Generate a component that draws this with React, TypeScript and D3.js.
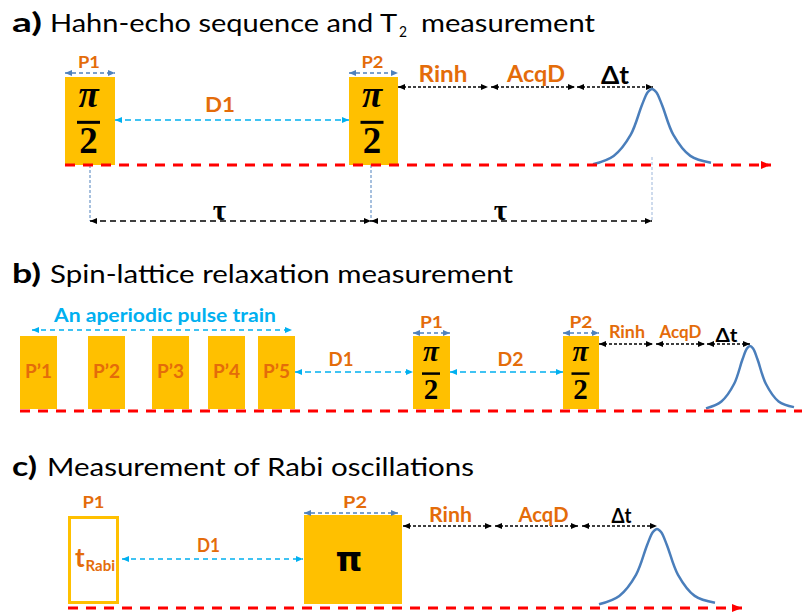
import React from "react";
import * as d3 from "d3";

const W = 802;
const H = 614;

const FONT = "Lato, 'Open Sans', 'DejaVu Sans', sans-serif";
const MATH = "'Liberation Serif', 'DejaVu Serif', serif";

const COLORS = {
  pulse: "#FFC000",
  orange: "#E46C0A",
  sky: "#00B0F0",
  steel: "#4F81BD",
  pale: "#9DB7DB",
  red: "#FF0000",
  black: "#000000",
  echo: "#4A7EBB",
};

// Shared time axis (diagram time units → pixels)
const x = d3.scaleLinear().domain([0, W]).range([0, W]);

// ---------- a) Hahn-echo sequence ----------
const hahnPulses = [
  { label: "P1", t0: 65, t1: 115 },
  { label: "P2", t0: 349, t1: 398 },
];
const hahnDelays = [{ label: "D1", t0: 115, t1: 349 }];
const hahnReadout = [
  { label: "Rinh", t0: 398, t1: 488 },
  { label: "AcqD", t0: 491, t1: 575 },
  { label: "Δt", t0: 577, t1: 653 },
];
const hahnTau = [
  { label: "τ", t0: 90, t1: 371 },
  { label: "τ", t0: 371, t1: 652 },
];
const hahnGuides = [90, 371, 652];
const hahnEcho = { t: 652, halfWidth: 59 };
const hahnAxis = { t0: 65, t1: 771 };

// ---------- b) Spin-lattice relaxation ----------
const trainPulses = [
  { label: "P’1", t0: 20, t1: 57 },
  { label: "P’2", t0: 88, t1: 125 },
  { label: "P’3", t0: 152, t1: 189 },
  { label: "P’4", t0: 208, t1: 245 },
  { label: "P’5", t0: 258, t1: 295 },
];
const trainSpan = { label: "An aperiodic pulse train", t0: 32, t1: 292 };
const t1Pulses = [
  { label: "P1", t0: 413, t1: 450 },
  { label: "P2", t0: 563, t1: 599 },
];
const t1Delays = [
  { label: "D1", t0: 295, t1: 413 },
  { label: "D2", t0: 450, t1: 563 },
];
const t1Readout = [
  { label: "Rinh", t0: 599, t1: 653 },
  { label: "AcqD", t0: 656, t1: 705 },
  { label: "Δt", t0: 707, t1: 750 },
];
const t1Echo = { t: 750, halfWidth: 44 };
const t1Axis = { t0: 20, t1: 802 };

// ---------- c) Rabi oscillations ----------
const rabiPulses = [
  { label: "P1", t0: 68, t1: 119, variable: true },
  { label: "P2", t0: 304, t1: 402, variable: false },
];
const rabiDelays = [{ label: "D1", t0: 122, t1: 303 }];
const rabiReadout = [
  { label: "Rinh", t0: 403, t1: 492 },
  { label: "AcqD", t0: 495, t1: 578 },
  { label: "Δt", t0: 582, t1: 657 },
];
const rabiEcho = { t: 657, halfWidth: 58 };
const rabiAxis = { t0: 68, t1: 742 };

// Echo profile: offset in half-widths, height as a fraction of the peak
const ECHO_SHAPE: [number, number][] = [
  [-1, 0.01],
  [-0.65, 0.12],
  [-0.36, 0.4],
  [-0.17, 0.79],
  [-0.07, 0.96],
  [0, 1],
  [0.07, 0.96],
  [0.17, 0.79],
  [0.36, 0.4],
  [0.65, 0.12],
  [1, 0.03],
];

// Label typesetting per panel: font size, set width, horizontal nudge
type Fit = { size: number; w: number; dx?: number };
const fitA: Record<string, Fit> = {
  P1: { size: 17, w: 22 },
  P2: { size: 17, w: 22 },
  D1: { size: 20, w: 30, dx: -12 },
  Rinh: { size: 23, w: 49 },
  AcqD: { size: 23, w: 58, dx: 3 },
  "Δt": { size: 24, w: 28 },
};
const fitB: Record<string, Fit> = {
  "P’1": { size: 18, w: 27 },
  "P’2": { size: 18, w: 27 },
  "P’3": { size: 18, w: 27 },
  "P’4": { size: 18, w: 27 },
  "P’5": { size: 18, w: 27 },
  train: { size: 19, w: 222, dx: 3 },
  P1: { size: 17, w: 23 },
  P2: { size: 17, w: 23 },
  D1: { size: 18, w: 25, dx: -13 },
  D2: { size: 18, w: 26, dx: 4 },
  Rinh: { size: 16.5, w: 36, dx: 1 },
  AcqD: { size: 16.5, w: 42, dx: 0 },
  "Δt": { size: 19, w: 22, dx: -2 },
};
const fitC: Record<string, Fit> = {
  P1: { size: 17, w: 22 },
  P2: { size: 17.5, w: 24, dx: 2 },
  D1: { size: 18, w: 23, dx: -4 },
  Rinh: { size: 21, w: 43, dx: 3 },
  AcqD: { size: 21, w: 50, dx: 7 },
  "Δt": { size: 21, w: 20, dx: 2 },
};

const mid = (d: { t0: number; t1: number }) => (x(d.t0) + x(d.t1)) / 2;

function Markers() {
  const defs = [
    { id: "ah-black", color: COLORS.black, w: 7, h: 6 },
    { id: "ah-sky", color: COLORS.sky, w: 7, h: 6 },
    { id: "ah-steel", color: COLORS.steel, w: 7, h: 6 },
    { id: "ah-red", color: COLORS.red, w: 10, h: 8 },
  ];
  return (
    <defs>
      {defs.map((m) => (
        <marker
          key={m.id}
          id={m.id}
          viewBox="0 0 10 10"
          refX={10}
          refY={5}
          markerWidth={m.w}
          markerHeight={m.h}
          markerUnits="userSpaceOnUse"
          preserveAspectRatio="none"
          orient="auto-start-reverse"
        >
          <path d="M0,0L10,5L0,10z" fill={m.color} />
        </marker>
      ))}
    </defs>
  );
}

function DimArrow({
  t0,
  t1,
  y,
  color,
  marker,
  dash,
  width = 1.5,
}: {
  t0: number;
  t1: number;
  y: number;
  color: string;
  marker: string;
  dash: string;
  width?: number;
}) {
  return (
    <line
      x1={x(t0)}
      x2={x(t1)}
      y1={y}
      y2={y}
      stroke={color}
      strokeWidth={width}
      strokeDasharray={dash}
      markerStart={`url(#${marker})`}
      markerEnd={`url(#${marker})`}
    />
  );
}

function Label({
  cx,
  y,
  text,
  fit,
  color = COLORS.orange,
}: {
  cx: number;
  y: number;
  text: string;
  fit: Fit;
  color?: string;
}) {
  const left = cx + (fit.dx ?? 0) - fit.w / 2;
  return (
    <text
      x={left}
      y={y}
      fontFamily={FONT}
      fontWeight="bold"
      fontSize={fit.size}
      fill={color}
      textLength={fit.w}
      lengthAdjust="spacingAndGlyphs"
    >
      {text}
    </text>
  );
}

function HalfPi({ cx, top, bottom, size, barW, barH }: { cx: number; top: number; bottom: number; size: number; barW: number; barH: number }) {
  const h = bottom - top;
  return (
    <g fontFamily={MATH} fontWeight="bold" textAnchor="middle" fill={COLORS.black}>
      <text x={cx} y={top + h * 0.34} fontSize={size} fontStyle="italic">
        π
      </text>
      <rect x={cx - barW / 2} y={top + h * 0.515 - barH / 2} width={barW} height={barH} />
      <text x={cx} y={top + h * 0.86} fontSize={size}>
        2
      </text>
    </g>
  );
}

function Echo({ t, halfWidth, top, base }: { t: number; halfWidth: number; top: number; base: number }) {
  const line = d3
    .line<[number, number]>()
    .x((d) => x(t) + d[0] * halfWidth)
    .y((d) => base - d[1] * (base - top))
    .curve(d3.curveCatmullRom.alpha(0.5));
  return <path d={line(ECHO_SHAPE) ?? ""} fill="none" stroke={COLORS.echo} strokeWidth={2.5} />;
}

function Baseline({ t0, t1, y, arrow }: { t0: number; t1: number; y: number; arrow: boolean }) {
  return (
    <line
      x1={x(t0)}
      x2={x(t1)}
      y1={y}
      y2={y}
      stroke={COLORS.red}
      strokeWidth={3}
      strokeDasharray="10 8"
      markerEnd={arrow ? "url(#ah-red)" : undefined}
    />
  );
}

// Panel heading: bold tag followed by set-width runs of regular text
function Title({
  y,
  tag,
  tagW,
  runs,
}: {
  y: number;
  tag: string;
  tagW: number;
  runs: { text: string; x: number; w: number; size?: number; dy?: number }[];
}) {
  return (
    <g fontFamily={FONT} fill="#000">
      <text x={12} y={y} fontSize={26} fontWeight="bold" textLength={tagW} lengthAdjust="spacingAndGlyphs">
        {tag}
      </text>
      {runs.map((r, i) => (
        <text
          key={i}
          x={r.x}
          y={y + (r.dy ?? 0)}
          fontSize={r.size ?? 25}
          textLength={r.w}
          lengthAdjust="spacingAndGlyphs"
        >
          {r.text}
        </text>
      ))}
    </g>
  );
}

function ReadoutGroup({
  items,
  y,
  labelY,
  deltaY,
  fits,
}: {
  items: { label: string; t0: number; t1: number }[];
  y: number;
  labelY: number;
  deltaY: number;
  fits: Record<string, Fit>;
}) {
  return (
    <g>
      {items.map((d, i) => {
        const isDelta = d.label === "Δt";
        return (
          <g key={i}>
            <DimArrow t0={d.t0} t1={d.t1} y={y} color={COLORS.black} marker="ah-black" dash="3 2" width={1.3} />
            <Label
              cx={mid(d)}
              y={isDelta ? deltaY : labelY}
              text={d.label}
              fit={fits[d.label]}
              color={isDelta ? COLORS.black : COLORS.orange}
            />
          </g>
        );
      })}
    </g>
  );
}

function PanelA() {
  const top = 77;
  const base = 165;
  return (
    <g>
      <Title
        y={32}
        tag="a)"
        tagW={30}
        runs={[
          { text: "Hahn-echo sequence and T", x: 50, w: 347 },
          { text: "2", x: 399, w: 8, size: 15, dy: 5 },
          { text: "measurement", x: 421, w: 174 },
        ]}
      />

      {hahnGuides.map((g, i) => (
        <line
          key={i}
          x1={x(g)}
          x2={x(g)}
          y1={i === 2 ? 157 : base}
          y2={221}
          stroke={i === 2 ? COLORS.pale : COLORS.steel}
          strokeWidth={1}
          strokeDasharray="3 2"
        />
      ))}

      {hahnPulses.map((p, i) => (
        <g key={i}>
          <rect x={x(p.t0)} y={top} width={x(p.t1) - x(p.t0)} height={base - top} fill={COLORS.pulse} />
          <DimArrow t0={p.t0} t1={p.t1} y={top - 4} color={COLORS.steel} marker="ah-steel" dash="4 3" />
          <Label cx={mid(p) - 1} y={68} text={p.label} fit={fitA[p.label]} />
          <HalfPi cx={mid(p) - 1.5} top={top} bottom={base} size={37} barW={23} barH={3} />
        </g>
      ))}

      {hahnDelays.map((d, i) => (
        <g key={i}>
          <DimArrow t0={d.t0} t1={d.t1} y={120} color={COLORS.sky} marker="ah-sky" dash="6 4" />
          <Label cx={mid(d)} y={112} text={d.label} fit={fitA[d.label]} />
        </g>
      ))}

      <ReadoutGroup items={hahnReadout} y={87} labelY={82} deltaY={84} fits={fitA} />

      <Echo t={hahnEcho.t} halfWidth={hahnEcho.halfWidth} top={89} base={165} />

      <Baseline t0={hahnAxis.t0} t1={hahnAxis.t1} y={165} arrow />

      {hahnTau.map((d, i) => (
        <g key={i}>
          <DimArrow t0={d.t0} t1={d.t1} y={221} color={COLORS.black} marker="ah-black" dash="6 4" width={1.5} />
          <text
            x={mid(d) - 11}
            y={220}
            textAnchor="middle"
            fontFamily={MATH}
            fontWeight="bold"
            fontSize={29}
            fill={COLORS.black}
          >
            {d.label}
          </text>
        </g>
      ))}
    </g>
  );
}

function PanelB() {
  const top = 336;
  const base = 409;
  return (
    <g>
      <Title
        y={283}
        tag="b)"
        tagW={29}
        runs={[{ text: "Spin-lattice relaxation measurement", x: 50, w: 463 }]}
      />

      <DimArrow t0={trainSpan.t0} t1={trainSpan.t1} y={330} color={COLORS.sky} marker="ah-sky" dash="5 4" />
      <Label cx={mid(trainSpan)} y={322} text={trainSpan.label} fit={fitB.train} color={COLORS.sky} />

      {trainPulses.map((p, i) => (
        <g key={i}>
          <rect x={x(p.t0)} y={top} width={x(p.t1) - x(p.t0)} height={base - top} fill={COLORS.pulse} />
          <Label cx={mid(p)} y={378} text={p.label} fit={fitB[p.label]} />
        </g>
      ))}

      {t1Pulses.map((p, i) => (
        <g key={i}>
          <rect x={x(p.t0)} y={top} width={x(p.t1) - x(p.t0)} height={base - top} fill={COLORS.pulse} />
          <DimArrow t0={p.t0} t1={p.t1} y={top - 3} color={COLORS.steel} marker="ah-steel" dash="4 3" />
          <Label cx={mid(p)} y={328} text={p.label} fit={fitB[p.label]} />
          <HalfPi cx={mid(p) - 0.5} top={top} bottom={base} size={29} barW={18} barH={2.5} />
        </g>
      ))}

      {t1Delays.map((d, i) => (
        <g key={i}>
          <DimArrow t0={d.t0} t1={d.t1} y={372} color={COLORS.sky} marker="ah-sky" dash="6 4" />
          <Label cx={mid(d)} y={366} text={d.label} fit={fitB[d.label]} />
        </g>
      ))}

      <ReadoutGroup items={t1Readout} y={344} labelY={338} deltaY={342} fits={fitB} />

      <Echo t={t1Echo.t} halfWidth={t1Echo.halfWidth} top={346} base={409} />

      <Baseline t0={t1Axis.t0} t1={t1Axis.t1} y={411} arrow={false} />
    </g>
  );
}

function PanelC() {
  const top = 516;
  const base = 604;
  return (
    <g>
      <Title
        y={476}
        tag="c)"
        tagW={25}
        runs={[{ text: "Measurement of Rabi oscillations", x: 47, w: 427 }]}
      />

      {rabiPulses.map((p, i) => (
        <g key={i}>
          {p.variable ? (
            <rect
              x={x(p.t0) + 1.5}
              y={top + 1.5}
              width={x(p.t1) - x(p.t0) - 3}
              height={base - top - 3}
              fill="none"
              stroke={COLORS.pulse}
              strokeWidth={3}
            />
          ) : (
            <>
              <rect x={x(p.t0)} y={top - 1} width={x(p.t1) - x(p.t0)} height={base - top + 1} fill={COLORS.pulse} />
              <DimArrow t0={p.t0} t1={p.t1 - 4} y={top - 3} color={COLORS.steel} marker="ah-steel" dash="4 3" />
              <text
                x={mid(p) - 4}
                y={571}
                textAnchor="middle"
                fontFamily="'DejaVu Sans', sans-serif"
                fontWeight="bold"
                fontSize={34}
                fill={COLORS.black}
              >
                π
              </text>
            </>
          )}
          <Label cx={mid(p)} y={508} text={p.label} fit={fitC[p.label]} />
        </g>
      ))}

      <g fontFamily={FONT} fontWeight="bold" fill={COLORS.orange}>
        <text x={75} y={567} fontSize={26}>
          t
        </text>
        <text x={85.5} y={571} fontSize={15} textLength={29.5} lengthAdjust="spacingAndGlyphs">
          Rabi
        </text>
      </g>

      {rabiDelays.map((d, i) => (
        <g key={i}>
          <DimArrow t0={d.t0} t1={d.t1} y={559} color={COLORS.sky} marker="ah-sky" dash="5 4" />
          <Label cx={mid(d)} y={552} text={d.label} fit={fitC[d.label]} />
        </g>
      ))}

      <ReadoutGroup items={rabiReadout} y={526} labelY={522} deltaY={523} fits={fitC} />

      <Echo t={rabiEcho.t} halfWidth={rabiEcho.halfWidth} top={529} base={605} />

      <Baseline t0={rabiAxis.t0} t1={rabiAxis.t1} y={608} arrow />
    </g>
  );
}

export default function App() {
  return (
    <svg
      width={W}
      height={H}
      viewBox={`0 0 ${W} ${H}`}
      style={{ position: "absolute", left: 0, top: 0, background: "#fff" }}
    >
      <Markers />
      <rect width={W} height={H} fill="#fff" />
      <PanelA />
      <PanelB />
      <PanelC />
    </svg>
  );
}
